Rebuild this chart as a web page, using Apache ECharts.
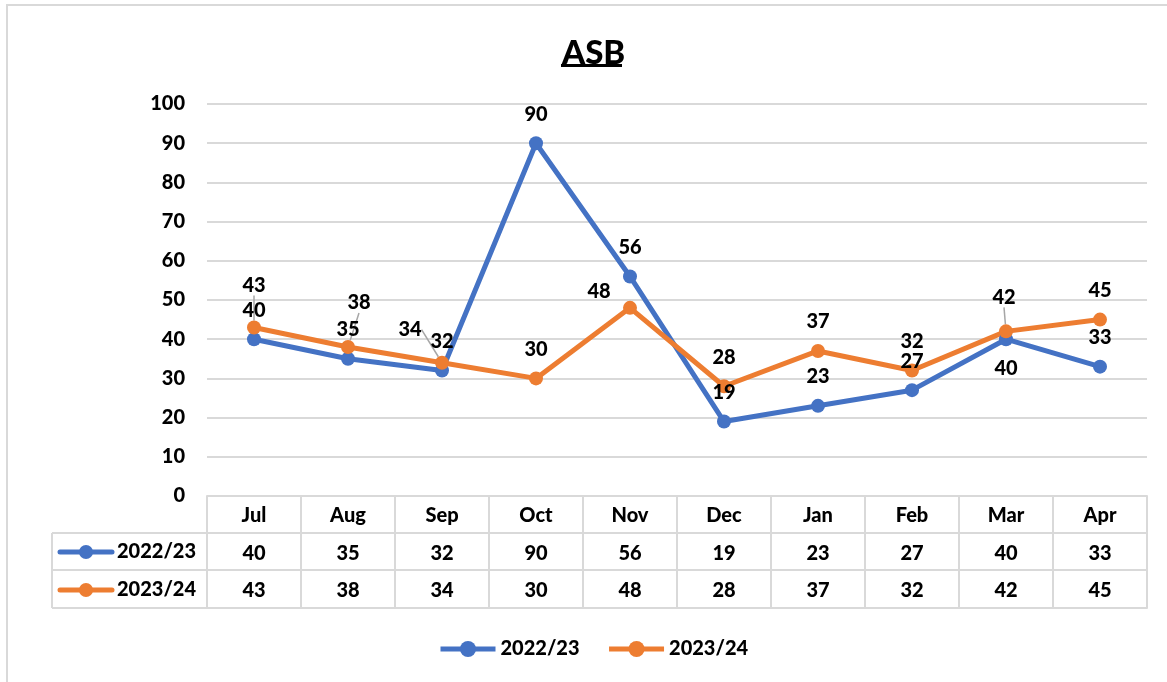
<!DOCTYPE html>
<html>
<head>
<meta charset="utf-8">
<script src="https://cdn.jsdelivr.net/npm/echarts@6.0.0/dist/echarts.min.js"></script>
<style>
  html, body { margin: 0; padding: 0; background: #fff; }
  #chart { width: 1167px; height: 682px; }
</style>
</head>
<body>
<div id="chart"></div>
<script>
const months = ['Jul', 'Aug', 'Sep', 'Oct', 'Nov', 'Dec', 'Jan', 'Feb', 'Mar', 'Apr'];
const names = ['2022/23', '2023/24'];
const values2223 = [40, 35, 32, 90, 56, 19, 23, 27, 40, 33];
const values2324 = [43, 38, 34, 30, 48, 28, 37, 32, 42, 45];
const yTicks = [0, 100, 10];

const blue = '#4472c4';
const orange = '#ed7d31';
const gridColor = '#d9d9d9';
const font = 'Lato, "Open Sans", sans-serif';
const weight = 900;

// label nudges (Excel placed some labels off the default spot)
const nudgeBlue = [[0, 0], [0, 0], [0, 0], [0, 0], [0, 0], [0, 0], [0, 0], [0, 0], [0, 0], [0, 0]];
const nudgeOrange = [[0, -13], [11, -15], [-32, -4], [0, 0], [-31, 13], [0, 0], [0, 0], [0, 0], [-2, -5], [0, 0]];
const leaderOrange = [true, true, true, false, false, false, false, false, true, false];

const chart = echarts.init(document.getElementById('chart'));

const labelStyle = { show: true, position: 'top', distance: 12, color: '#000', fontFamily: font, fontWeight: weight, fontSize: 20 };
const tableLabel = { color: '#000', fontFamily: font, fontWeight: weight, fontSize: 20, margin: 11, interval: 0 };

function tableAxis(offset, vals) {
  return {
    type: 'category',
    data: months,
    position: 'bottom',
    offset: offset,
    axisLine: { show: true, lineStyle: { color: gridColor, width: 2 } },
    axisTick: { show: false },
    axisLabel: vals ? Object.assign({}, tableLabel, { formatter: (v, i) => String(vals[i]) }) : { show: false },
    splitLine: { show: false },
  };
}

function legendIcon(y, color) {
  return [
    { type: 'line', shape: { x1: 60, y1: y, x2: 112, y2: y }, style: { stroke: color, lineWidth: 5, lineCap: 'round' } },
    { type: 'circle', shape: { cx: 86, cy: y, r: 7 }, style: { fill: color } },
  ];
}

const option = {
  backgroundColor: '#fff',
  title: {
    text: 'ASB',
    left: 557,
    top: 32,
    textStyle: { color: '#000', fontFamily: font, fontWeight: weight, fontSize: 33 },
  },
  legend: {
    bottom: 18,
    left: 433,
    itemWidth: 55,
    itemHeight: 20,
    itemGap: 27,
    lineStyle: { width: 5 },
    textStyle: { color: '#000', fontFamily: font, fontWeight: weight, fontSize: 20 },
    data: names,
  },
  grid: { left: 207, top: 104, width: 940, height: 392 },
  xAxis: [
    {
      type: 'category',
      data: months,
      position: 'bottom',
      axisLine: { show: true, lineStyle: { color: gridColor, width: 2 } },
      axisTick: { show: true, length: 112, interval: 0, lineStyle: { color: gridColor, width: 2 } },
      axisLabel: Object.assign({}, tableLabel, { margin: 10 }),
      splitLine: { show: false },
    },
    tableAxis(37, values2223),
    tableAxis(74, values2324),
    tableAxis(112, null),
  ],
  yAxis: {
    type: 'value',
    min: yTicks[0],
    max: yTicks[1],
    interval: yTicks[2],
    axisLine: { show: false },
    axisTick: { show: false },
    axisLabel: { color: '#000', fontFamily: font, fontWeight: weight, fontSize: 20, margin: 22 },
    splitLine: { lineStyle: { color: gridColor, width: 2 } },
  },
  series: [
    {
      name: names[0],
      type: 'line',
      data: values2223.map((v, i) => i === 8 ? { value: v, label: { position: 'bottom' } } : v),
      symbol: 'circle',
      symbolSize: 14,
      color: blue,
      lineStyle: { width: 5, color: blue },
      label: labelStyle,
      labelLayout: (p) => ({ dx: nudgeBlue[p.dataIndex][0], dy: nudgeBlue[p.dataIndex][1] }),
      z: 2,
    },
    {
      name: names[1],
      type: 'line',
      data: values2324.map((v, i) => leaderOrange[i] ? { value: v, labelLine: { show: true } } : v),
      symbol: 'circle',
      symbolSize: 14,
      color: orange,
      lineStyle: { width: 5, color: orange },
      label: labelStyle,
      labelLine: { show: false, lineStyle: { color: '#a6a6a6', width: 1.5 } },
      labelLayout: (p) => ({ dx: nudgeOrange[p.dataIndex][0], dy: nudgeOrange[p.dataIndex][1] }),
      z: 2,
    },
  ],
  graphic: [
    { type: 'rect', shape: { x: 7, y: 5, width: 1200, height: 700 }, style: { fill: 'none', stroke: gridColor, lineWidth: 2 }, silent: true },
    { type: 'rect', shape: { x: 561, y: 64, width: 61, height: 3 }, style: { fill: '#000' } },
    { type: 'line', shape: { x1: 52, y1: 533, x2: 207, y2: 533 }, style: { stroke: gridColor, lineWidth: 2 } },
    { type: 'line', shape: { x1: 52, y1: 570, x2: 207, y2: 570 }, style: { stroke: gridColor, lineWidth: 2 } },
    { type: 'line', shape: { x1: 52, y1: 608, x2: 207, y2: 608 }, style: { stroke: gridColor, lineWidth: 2 } },
    { type: 'line', shape: { x1: 52, y1: 533, x2: 52, y2: 608 }, style: { stroke: gridColor, lineWidth: 2 } },
    ...legendIcon(552, blue),
    ...legendIcon(590, orange),
    { type: 'text', x: 117, y: 552, style: { text: names[0], fill: '#000', font: weight + ' 20px ' + font, textVerticalAlign: 'middle' } },
    { type: 'text', x: 117, y: 590, style: { text: names[1], fill: '#000', font: weight + ' 20px ' + font, textVerticalAlign: 'middle' } },
  ],
};
chart.setOption(option);
</script>
</body>
</html>
